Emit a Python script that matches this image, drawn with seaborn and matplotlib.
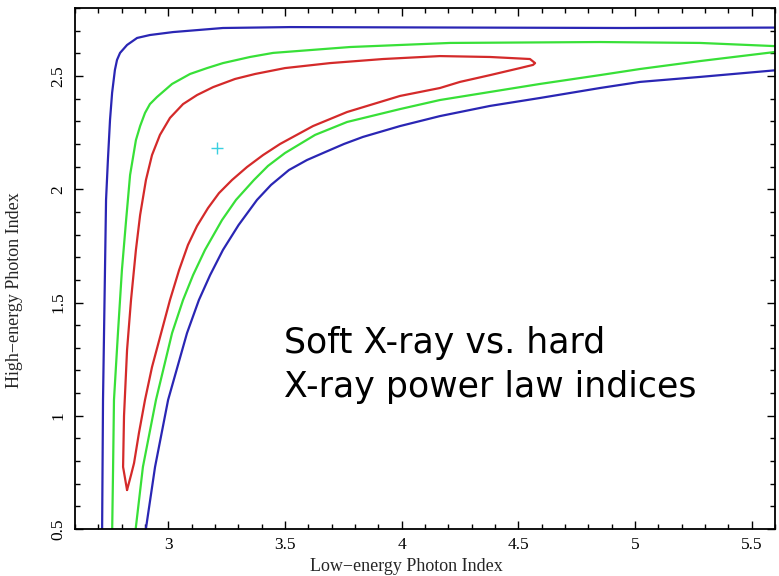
import numpy as np
import matplotlib
matplotlib.use('Agg')
import matplotlib.pyplot as plt
from matplotlib.ticker import MultipleLocator, FuncFormatter
import seaborn as sns

# confidence contours (low-energy index, high-energy index)
blue_upper_x = [2.716, 2.720, 2.733, 2.741, 2.750, 2.759, 2.771, 2.780, 2.793,
                2.823, 2.866, 2.921, 3.020, 3.234, 3.522, 4.949, 5.665]
blue_upper_y = [0.474, 1.070, 1.953, 2.130, 2.306, 2.426, 2.527, 2.571, 2.602,
                2.637, 2.668, 2.681, 2.694, 2.712, 2.716, 2.712, 2.714]

blue_lower_x = [2.900, 2.943, 2.999, 3.080, 3.131, 3.179, 3.234, 3.301, 3.380,
                3.440, 3.517, 3.594, 3.672, 3.753, 3.834, 3.993, 4.164, 4.379,
                4.593, 4.850, 5.022, 5.279, 5.665]
blue_lower_y = [0.474, 0.774, 1.070, 1.365, 1.511, 1.621, 1.732, 1.842, 1.953,
                2.019, 2.085, 2.129, 2.164, 2.200, 2.231, 2.279, 2.323, 2.368,
                2.403, 2.447, 2.474, 2.496, 2.531]

green_x = [2.759, 2.763, 2.767, 2.784, 2.801, 2.819, 2.836, 2.861, 2.879, 2.900,
           2.921, 2.951, 3.016, 3.093, 3.166, 3.234, 3.350, 3.449, 3.779, 4.207,
           4.850, 5.279, 5.600, 5.665,
           5.600, 5.279, 5.022, 4.850, 4.593, 4.164, 3.993, 3.766, 3.629, 3.500,
           3.427, 3.367, 3.290, 3.230, 3.157, 3.106, 3.063, 3.016, 2.947, 2.891,
           2.857]
green_y = [0.474, 0.760, 1.070, 1.365, 1.643, 1.864, 2.063, 2.217, 2.279, 2.337,
           2.376, 2.407, 2.465, 2.509, 2.535, 2.557, 2.584, 2.602, 2.628, 2.646,
           2.650, 2.646, 2.632, 2.619,
           2.606, 2.566, 2.531, 2.504, 2.465, 2.394, 2.354, 2.297, 2.240, 2.160,
           2.103, 2.041, 1.953, 1.864, 1.732, 1.621, 1.511, 1.365, 1.070, 0.774,
           0.474]

red_x = [2.823, 2.806, 2.810, 2.823, 2.840, 2.861, 2.879, 2.904, 2.930, 2.964,
         3.007, 3.063, 3.123, 3.192, 3.286, 3.372, 3.500, 3.693, 3.920, 4.164,
         4.379, 4.550, 4.572, 4.563, 4.507, 4.379, 4.250, 4.164, 3.993, 3.766,
         3.620, 3.479, 3.406, 3.337, 3.273, 3.217, 3.170, 3.123, 3.084, 3.046,
         3.007, 2.969, 2.930, 2.900, 2.874, 2.853, 2.840, 2.823]
red_y = [0.672, 0.774, 0.999, 1.290, 1.511, 1.732, 1.886, 2.041, 2.151, 2.240,
         2.315, 2.376, 2.416, 2.451, 2.487, 2.509, 2.535, 2.557, 2.575, 2.588,
         2.584, 2.575, 2.557, 2.549, 2.535, 2.504, 2.474, 2.447, 2.412, 2.341,
         2.279, 2.200, 2.151, 2.098, 2.041, 1.983, 1.917, 1.838, 1.754, 1.643,
         1.511, 1.365, 1.215, 1.070, 0.924, 0.791, 0.738, 0.672]

best_fit_x = [3.208]
best_fit_y = [2.181]

annotation_lines = ['Soft X-ray vs. hard', 'X-ray power law indices']
annotation_x = 3.496
annotation_y = [1.277, 1.083]

x_limits = (2.6, 5.6)
y_limits = (0.5, 2.8)

sns.set_style('ticks')
plt.rcParams['font.family'] = ['Liberation Serif', 'DejaVu Serif']

fig = plt.figure(figsize=(7.79, 5.76), dpi=100)
ax = fig.add_axes([0.0963, 0.0816, 0.8985, 0.9044])

line_kw = dict(sort=False, estimator=None, linewidth=1.6, ax=ax, legend=False)
sns.lineplot(x=blue_upper_x, y=blue_upper_y, color='#2a26b4', **line_kw)
sns.lineplot(x=blue_lower_x, y=blue_lower_y, color='#2a26b4', **line_kw)
sns.lineplot(x=green_x, y=green_y, color='#38e038', **line_kw)
sns.lineplot(x=red_x, y=red_y, color='#d42a2a', **line_kw)
sns.scatterplot(x=best_fit_x, y=best_fit_y, marker='+', s=70, color='#3ad0e0',
                linewidth=1.0, ax=ax, legend=False)

ax.set_xlim(*x_limits)
ax.set_ylim(*y_limits)

ax.xaxis.set_major_locator(MultipleLocator(0.5))
ax.xaxis.set_minor_locator(MultipleLocator(0.1))
ax.yaxis.set_major_locator(MultipleLocator(0.5))
ax.yaxis.set_minor_locator(MultipleLocator(0.1))
fmt = FuncFormatter(lambda v, pos: '%g' % v)
ax.xaxis.set_major_formatter(fmt)
ax.yaxis.set_major_formatter(fmt)

ax.tick_params(which='both', direction='in', top=True, right=True, width=1.0,
               colors='black', labelsize=12.5)
ax.tick_params(which='major', length=6, pad=6)
ax.tick_params(which='minor', length=3.5)
for lbl in ax.get_yticklabels():
    lbl.set_rotation(90)
    lbl.set_va('center')
for spine in ax.spines.values():
    spine.set_linewidth(1.3)
    spine.set_color('black')

ax.set_xlabel('Low\u2212energy Photon Index', fontsize=13)
ax.set_ylabel('High\u2212energy Photon Index', fontsize=13)
ax.xaxis.set_label_coords(0.473, -0.055)
ax.yaxis.set_label_coords(-0.074, 0.459)

for line, ypos in zip(annotation_lines, annotation_y):
    ax.text(annotation_x, ypos, line, family=['DejaVu Sans'], fontsize=25,
            va='baseline', ha='left', color='black')

fig.savefig('out.png', dpi=100)
